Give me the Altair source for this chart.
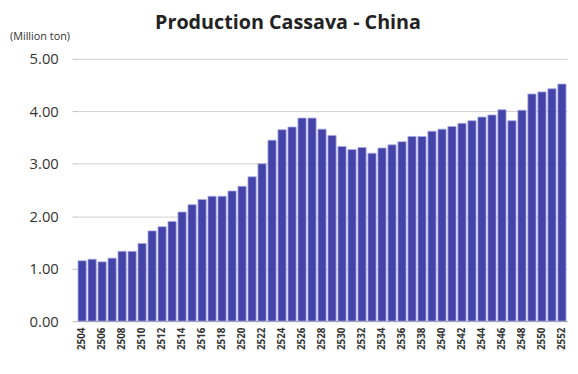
import altair as alt
import pandas as pd

years = [str(y) for y in range(2504, 2553)]
production = [
    1.15, 1.18, 1.13, 1.20, 1.33, 1.33, 1.48, 1.72, 1.80, 1.90,
    2.08, 2.22, 2.32, 2.38, 2.38, 2.48, 2.57, 2.75, 3.00, 3.45,
    3.65, 3.70, 3.87, 3.87, 3.66, 3.54, 3.33, 3.27, 3.31, 3.20,
    3.30, 3.36, 3.42, 3.52, 3.52, 3.62, 3.66, 3.71, 3.77, 3.82,
    3.89, 3.93, 4.03, 3.82, 4.02, 4.33, 4.37, 4.43, 4.52,
]
label_years = years[::2]

df = pd.DataFrame({"year": years, "value": production})

font = "Open Sans"

bars = alt.Chart(df).mark_bar(
    color="#4444A8", stroke="#A8A8E8", strokeWidth=0.8
).encode(
    x=alt.X("year:N", sort=None, title=None,
            scale=alt.Scale(paddingInner=0.18, paddingOuter=0.1),
            axis=alt.Axis(values=label_years, labelAngle=-90, labelFont=font,
                          labelFontSize=10, labelFontWeight="bold", labelColor="#333333",
                          ticks=False, domainColor="#999999", labelPadding=6,
                          labelBaseline="middle")),
    y=alt.Y("value:Q", title=None,
            scale=alt.Scale(domain=[0, 5], nice=False),
            axis=alt.Axis(values=[0, 1, 2, 3, 4, 5], format=".2f", labelFont=font,
                          labelFontSize=15, labelColor="#333333", domain=False,
                          tickSize=5, tickColor="#BBBBBB", labelPadding=14,
                          gridColor="#D0D0D0")),
)

unit = alt.Chart(pd.DataFrame({"t": ["(Million ton)"]})).mark_text(
    font=font, fontSize=11, color="#333333", align="left", baseline="middle"
).encode(text="t:N", x=alt.value(-68), y=alt.value(-22))

title = alt.Chart(pd.DataFrame({"t": ["Production Cassava - China"]})).mark_text(
    font=font, fontSize=20, fontWeight="bold", color="#222222",
    align="center", baseline="middle"
).encode(text="t:N", x=alt.value(214), y=alt.value(-36))

chart = alt.layer(bars, unit, title).properties(
    width=497, height=266,
    autosize=alt.AutoSizeParams(type="none"),
    padding={"left": 70, "top": 49, "right": 3, "bottom": 45},
).configure_view(stroke=None)

chart.save("out.html", embed_options={"renderer": "svg", "actions": False})
